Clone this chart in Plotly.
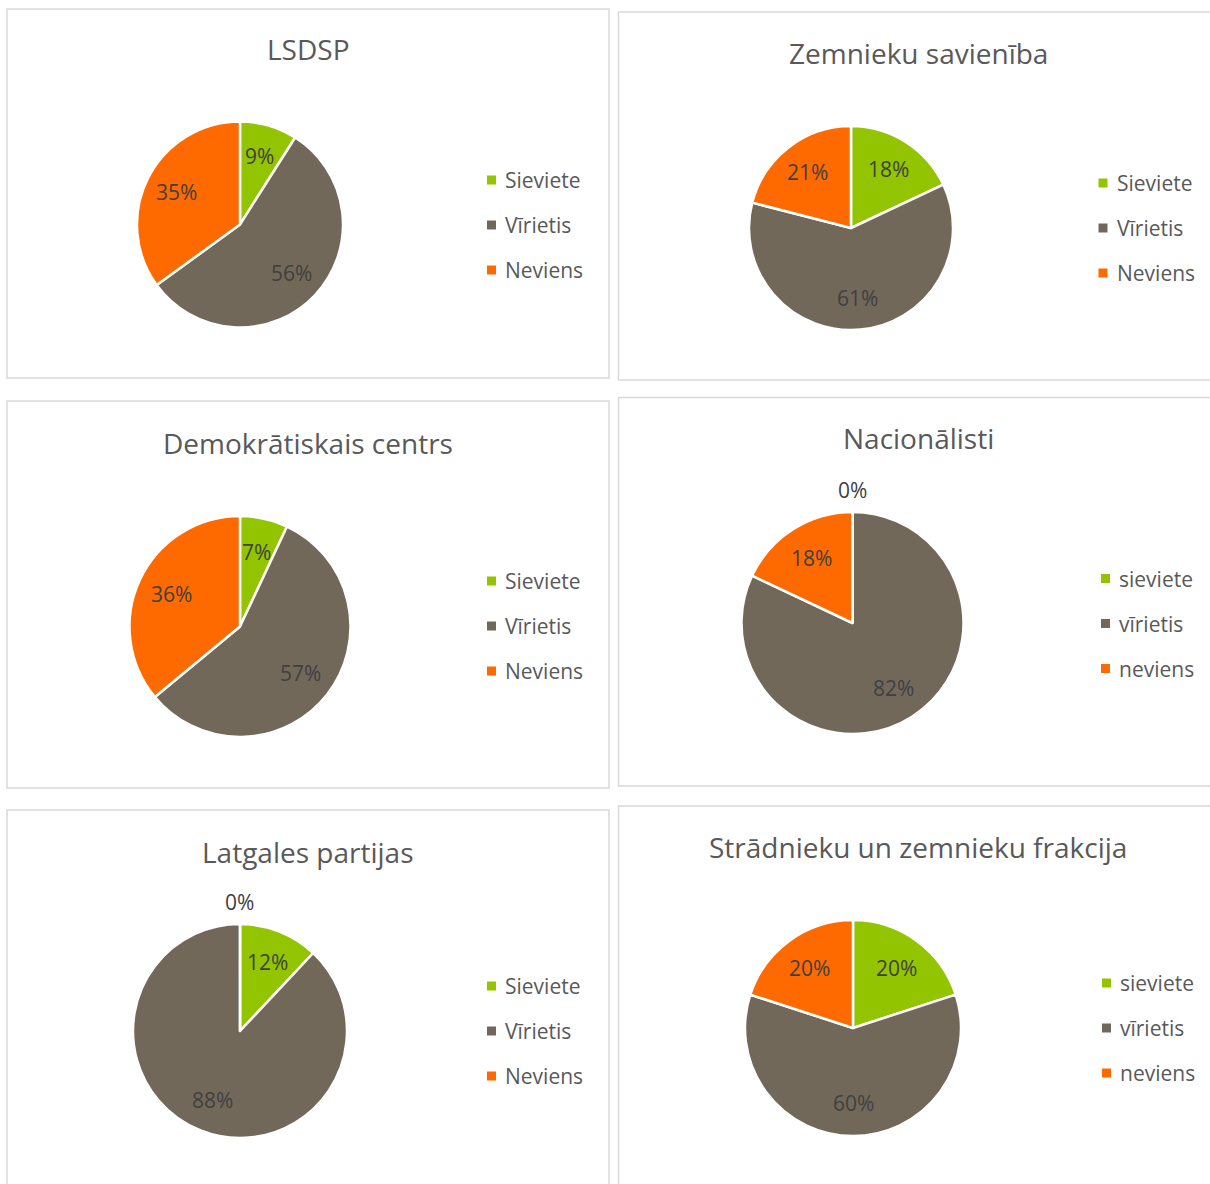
import math
import plotly.graph_objects as go

# ---------------- data ----------------
titles = [
    "LSDSP",
    "Zemnieku savienība",
    "Demokrātiskais centrs",
    "Nacionālisti",
    "Latgales partijas",
    "Strādnieku un zemnieku frakcija",
]
labels_upper = ["Sieviete", "Vīrietis", "Neviens"]
labels_lower = ["sieviete", "vīrietis", "neviens"]
legend_labels = [labels_upper, labels_upper, labels_upper, labels_lower, labels_upper, labels_lower]

lsdsp = [9, 56, 35]
zemnieku = [18, 61, 21]
demokratiskais = [7, 57, 36]
nacionalisti = [0, 82, 18]
latgales = [12, 88, 0]
stradnieku = [20, 60, 20]
values = [lsdsp, zemnieku, demokratiskais, nacionalisti, latgales, stradnieku]

# ---------------- styles / layout geometry ----------------
W, H = 1210, 1184
COLORS = ["#92C500", "#72685A", "#FF6A00"]
FONT = "Open Sans"
TITLE_COLOR = "#595959"
LABEL_COLOR = "#404040"
LEGEND_COLOR = "#595959"
BORDER = "#D9D9D9"

boxes = [(7, 9, 609, 378), (618.5, 12, 1218, 380), (7, 401, 609, 788),
         (618.5, 397.5, 1218, 786), (7, 810, 609, 1192), (618.5, 806, 1218, 1192)]
pie_geo = [(240, 224.5, 103), (851, 228, 102), (240, 626.5, 110.5),
           (852.5, 623, 111), (240, 1031, 107), (853, 1028, 108)]
title_y = [49, 53, 442.5, 438, 852, 847]
legend_x = [487, 1098.5, 487, 1101, 487, 1102]
legend_y0 = [180, 183, 581, 578.5, 986, 983]
LEG_GAP = 45
SQ = 9
LABEL_R = 0.69


def px(x):
    return x / W


def py(y):
    return 1 - y / H


fig = go.Figure()
shapes = []
annotations = []

for i in range(6):
    x0, y0, x1, y1 = boxes[i]
    shapes.append(dict(type="rect", xref="paper", yref="paper",
                       x0=px(x0), x1=px(x1), y0=py(y1), y1=py(y0),
                       line=dict(color=BORDER, width=1.5),
                       fillcolor="rgba(0,0,0,0)", layer="below"))
    cx, cy, r = pie_geo[i]
    vals = values[i]
    fig.add_trace(go.Pie(
        values=vals, labels=legend_labels[i],
        marker=dict(colors=COLORS, line=dict(color="white", width=2.5)),
        sort=False, direction="clockwise", rotation=0,
        textinfo="none", showlegend=False,
        domain=dict(x=[px(cx - r), px(cx + r)], y=[py(cy + r), py(cy - r)]),
    ))
    # title
    annotations.append(dict(text=titles[i], xref="paper", yref="paper",
                            x=px((x0 + x1) / 2), y=py(title_y[i]),
                            xanchor="center", yanchor="middle", showarrow=False,
                            font=dict(family=FONT, size=28, color=TITLE_COLOR)))
    # data labels
    total = sum(vals)
    cum = 0
    for v in vals:
        mid = (cum + v / 2) / total * 2 * math.pi
        cum += v
        pct = f"{round(v / total * 100)}%"
        if v == 0:
            dist = r + 22
        else:
            dist = LABEL_R * r
        lx = cx + math.sin(mid) * dist
        ly = cy - math.cos(mid) * dist
        annotations.append(dict(text=pct, xref="paper", yref="paper",
                                x=px(lx), y=py(ly), xanchor="center", yanchor="middle",
                                showarrow=False,
                                font=dict(family=FONT, size=21, color=LABEL_COLOR)))
    # legend
    for k, lab in enumerate(legend_labels[i]):
        ry = legend_y0[i] + k * LEG_GAP
        lx0 = legend_x[i]
        shapes.append(dict(type="rect", xref="paper", yref="paper",
                           x0=px(lx0), x1=px(lx0 + SQ), y0=py(ry + SQ / 2), y1=py(ry - SQ / 2),
                           line=dict(width=0), fillcolor=COLORS[k]))
        annotations.append(dict(text=lab, xref="paper", yref="paper",
                                x=px(lx0 + 16), y=py(ry), xanchor="left", yanchor="middle",
                                showarrow=False,
                                font=dict(family=FONT, size=21, color=LEGEND_COLOR)))

fig.update_layout(
    width=W, height=H,
    margin=dict(l=0, r=0, t=0, b=0),
    paper_bgcolor="white", plot_bgcolor="white",
    shapes=shapes, annotations=annotations,
    showlegend=False,
    font=dict(family=FONT),
)

fig.write_html(
    "out.html",
    config={"displayModeBar": False},
    post_script="document.body.style.margin='0';document.body.style.overflow='hidden';",
)
